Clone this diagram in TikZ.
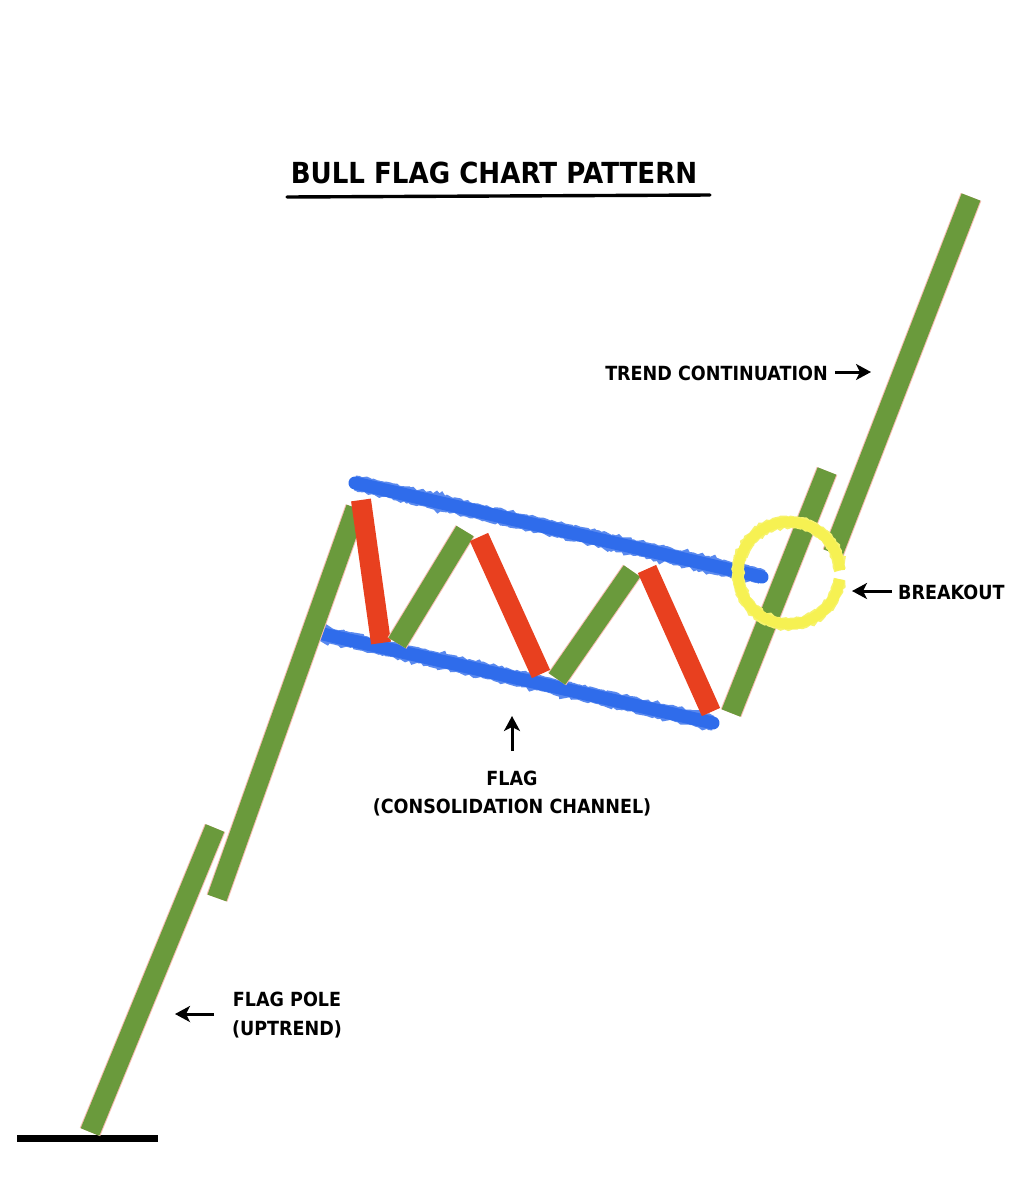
\documentclass[tikz,border=0pt]{standalone}
\usepackage{fontspec}
\newfontfamily\handfont{DejaVu Sans}[FakeStretch=0.9]
\usetikzlibrary{arrows.meta,decorations.pathmorphing}
\definecolor{barGreen}{HTML}{6A9A3C}
\definecolor{barRed}{HTML}{E8401F}
\definecolor{chanBlue}{HTML}{2F6CEB}
\definecolor{ringYellow}{HTML}{F6F152}
\pgfmathsetseed{7}
\tikzset{
  bar/.style={line width=20pt, line cap=butt},
  gbar/.style={bar, draw=barGreen, preaction={draw=barRed!35, line width=22pt}},
  rbar/.style={bar, draw=barRed},
  chan/.style={line width=13pt, draw=chanBlue, line cap=round,
    preaction={draw=chanBlue!80, line width=15pt, decorate,
      decoration={random steps, segment length=2.5pt, amplitude=1.2pt}}},
  ringline/.style={draw=ringYellow, line width=10pt,
    preaction={draw=ringYellow!85!white, line width=12pt, decorate,
      decoration={random steps, segment length=2.5pt, amplitude=1pt}}},
  lbl/.style={font=\handfont\bfseries\fontsize{19.5}{24}\selectfont, inner sep=0pt, text=black},
  pointer/.style={line width=3pt, draw=black, -{Stealth[length=15pt,width=16pt,inset=4pt]}},
}
\begin{document}
\begin{tikzpicture}[x=1pt,y=-1pt]
\useasboundingbox (0,0) rectangle (1019,1200);
\fill[white] (0,0) rectangle (1019,1200);

% title
\node[lbl, font=\handfont\bfseries\fontsize{29}{34}\selectfont] (title) at (494,173) {BULL FLAG CHART PATTERN};
\coordinate (ulL) at (287,197);
\coordinate (ulR) at (710,195);
\draw[line width=3.4pt, line cap=round] (ulL) -- (ulR);

% ground line
\coordinate (g1) at (17,1138);
\coordinate (g2) at (158,1138);
\draw[line width=7pt] (g1) -- (g2);

% channel lines
\coordinate (ct1) at (355,483);
\coordinate (ct2) at (762,577);
\coordinate (cb1) at (323,634);
\coordinate (cb2) at (713,723);
\draw[chan] (ct1) -- (ct2);
\draw[chan] (cb1) -- (cb2);

% candles
\coordinate (b1a) at (90,1132);  \coordinate (b1b) at (215,828);
\coordinate (b2a) at (217,898);  \coordinate (b2b) at (356,508);
\coordinate (r1a) at (361,500);  \coordinate (r1b) at (381,643);
\coordinate (b3a) at (397,643);  \coordinate (b3b) at (465,531);
\coordinate (r2a) at (479,537);  \coordinate (r2b) at (541,674);
\coordinate (b4a) at (557,679);  \coordinate (b4b) at (632,571);
\coordinate (r3a) at (647,569);  \coordinate (r3b) at (711,712);
\coordinate (b5a) at (731,713);  \coordinate (b5b) at (827,471);
\coordinate (b6a) at (833,553);  \coordinate (b6b) at (971,197);

\draw[gbar] (b1a) -- (b1b);
\draw[gbar] (b2a) -- (b2b);
\draw[rbar] (r1a) -- (r1b);
\draw[gbar] (b3a) -- (b3b);
\draw[rbar] (r2a) -- (r2b);
\draw[gbar] (b4a) -- (b4b);
\draw[rbar] (r3a) -- (r3b);
\draw[gbar] (b5a) -- (b5b);
\draw[gbar] (b6a) -- (b6b);

% breakout ring
\coordinate (ring) at (789,573);
\draw[ringline] ([shift={(7:51)}]ring) arc[start angle=7, end angle=357, radius=51];

% labels
\node[lbl, anchor=east] (trend) at (828,373) {TREND CONTINUATION};
\coordinate (trendTail) at (835,372);
\coordinate (trendTip) at (871,372);
\draw[pointer] (trendTail) -- (trendTip);

\node[lbl, anchor=west] (brk) at (898,592) {BREAKOUT};
\coordinate (brkTail) at (892,591);
\coordinate (brkTip) at (852,591);
\draw[pointer] (brkTail) -- (brkTip);

\node[lbl] (flag) at (512,778) {FLAG};
\node[lbl] (consol) at (512,807) {(CONSOLIDATION CHANNEL)};
\coordinate (flagTail) at (512,751);
\coordinate (flagTip) at (512,716);
\draw[pointer] (flagTail) -- (flagTip);

\node[lbl] (pole) at (287,999) {FLAG POLE};
\node[lbl] (up) at (287,1029) {(UPTREND)};
\coordinate (poleTail) at (214,1014);
\coordinate (poleTip) at (175,1014);
\draw[pointer] (poleTail) -- (poleTip);
\end{tikzpicture}
\end{document}
